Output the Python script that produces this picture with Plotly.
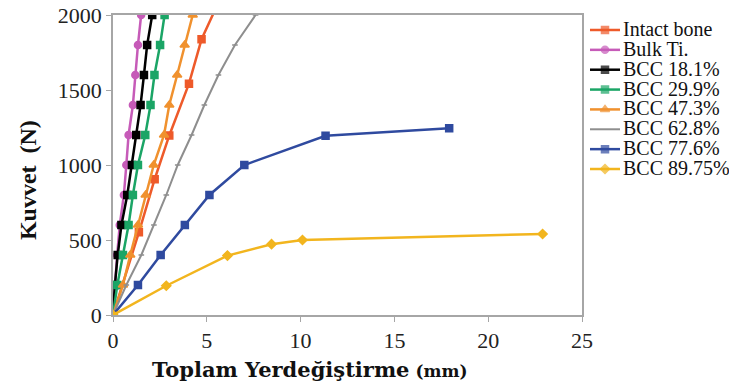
import plotly.graph_objects as go

force_200 = [0, 200, 400, 600, 800, 1000, 1200, 1400, 1600, 1800, 2000]

intact_x = [0, 1.38, 2.22, 3.0, 4.05, 4.72, 5.9]
intact_y = [0, 551, 905, 1197, 1542, 1838, 2160]

bulk_ti_x = [0, 0.1, 0.22, 0.36, 0.58, 0.71, 0.83, 1.06, 1.19, 1.33, 1.5]
bcc181_x = [0, 0.1, 0.25, 0.45, 0.76, 1.01, 1.24, 1.47, 1.65, 1.82, 2.09]
bcc299_x = [0, 0.23, 0.53, 0.83, 1.06, 1.33, 1.72, 2.0, 2.21, 2.51, 2.75]
bcc473_x = [0, 0.53, 0.92, 1.33, 1.74, 2.17, 2.72, 3.0, 3.42, 3.82, 4.25]
bcc628_x = [0, 0.71, 1.51, 2.18, 2.84, 3.45, 4.19, 4.87, 5.62, 6.5, 7.6]

bcc776_x = [0, 1.33, 2.54, 3.83, 5.14, 7.0, 11.33, 17.92]
bcc776_y = [0, 200, 400, 600, 800, 1000, 1195, 1245]

bcc8975_x = [0, 2.84, 6.1, 8.45, 10.1, 22.9]
bcc8975_y = [0, 195, 396, 472, 500, 540]

x_ticks = [0, 5, 10, 15, 20, 25]
y_ticks = [0, 500, 1000, 1500, 2000]

series = [
    ("Intact bone", intact_x, intact_y, "#EE5A2A", "square", 7, True),
    ("Bulk Ti.", bulk_ti_x, force_200, "#C65BB8", "circle", 7, True),
    ("BCC 18.1%", bcc181_x, force_200, "#000000", "square", 7, True),
    ("BCC 29.9%", bcc299_x, force_200, "#1BA566", "square", 7, True),
    ("BCC 47.3%", bcc473_x, force_200, "#F0912E", "triangle-up", 8, True),
    ("BCC 62.8%", bcc628_x, force_200, "#8E8E8E", "line-ew", 4, False),
    ("BCC 77.6%", bcc776_x, bcc776_y, "#2F4A9F", "square", 7, True),
    ("BCC 89.75%", bcc8975_x, bcc8975_y, "#F2B51E", "diamond", 7, True),
]

serif = "Liberation Serif, Times New Roman, serif"
wide_serif = "DejaVu Serif, serif"

fig = go.Figure()
for name, xs, ys, color, sym, size, legmark in series:
    fig.add_trace(go.Scatter(
        x=xs, y=ys, name=name, mode="lines+markers", showlegend=False,
        line=dict(color=color, width=2.5 if legmark else 2),
        marker=dict(symbol=sym, size=size, color=color,
                    line=dict(color=color, width=1.5)),
        xaxis="x", yaxis="y",
    ))

# legend drawn on a hidden side axis: one row per series (row index = order)
for i, (name, xs, ys, color, sym, size, legmark) in enumerate(series):
    fig.add_trace(go.Scatter(
        x=[8, 23, 38], y=[i, i, i], mode="lines+markers", showlegend=False,
        hoverinfo="skip",
        line=dict(color=color, width=2.5 if legmark else 2),
        marker=dict(symbol=sym, size=[0, size if legmark else 0, 0], color=color,
                    line=dict(color=color, width=1.5 if legmark else 0)),
        xaxis="x2", yaxis="y2",
    ))
    fig.add_annotation(
        text=name, xref="x2", yref="y2", x=39, y=i, xanchor="left", yanchor="middle",
        yshift=1, showarrow=False, font=dict(family=serif, size=20, color="#111111"),
    )

W, H = 729, 387
ML, MT, MB = 113, 15, 72
main_frac = 469 / (W - ML)
axis_common = dict(
    showgrid=False, zeroline=False, showline=True, linecolor="#A6A6A6",
    linewidth=1.5, mirror=True, ticks="outside", ticklen=5, tickcolor="#A6A6A6",
    tickfont=dict(family=serif, size=22, color="#222222"), automargin=False,
)
fig.update_layout(
    xaxis=dict(range=[0, 25], tickvals=x_ticks, domain=[0, main_frac], anchor="y", **axis_common),
    yaxis=dict(range=[0, 2000], tickvals=y_ticks, domain=[0, 1], anchor="x", **axis_common),
    xaxis2=dict(range=[0, 147], domain=[main_frac, 1], anchor="y2", visible=False, fixedrange=True),
    yaxis2=dict(range=[14.351, -0.755], domain=[0, 1], anchor="x2", visible=False, fixedrange=True),
)

fig.add_annotation(
    text="<b>Toplam Yerdeğiştirme</b><b><span style='font-size:17px'> (mm)</span></b>",
    xref="x domain", yref="y domain", x=0.42, y=-0.18, xanchor="center", yanchor="middle",
    showarrow=False, font=dict(family=wide_serif, size=21, color="#111111"),
)
fig.add_annotation(
    text="<b>Kuvvet  (N)</b>",
    xref="x domain", yref="y domain", x=-0.181, y=0.45, xanchor="center", yanchor="middle",
    textangle=-90, showarrow=False, font=dict(family=serif, size=24, color="#111111"),
)

fig.update_layout(
    width=W, height=H,
    margin=dict(l=ML, r=0, t=MT, b=MB, autoexpand=False),
    plot_bgcolor="white", paper_bgcolor="white",
    showlegend=False,
)

fig.write_html("out.html", config={"displayModeBar": False},
               post_script="document.body.style.margin='0px';")
